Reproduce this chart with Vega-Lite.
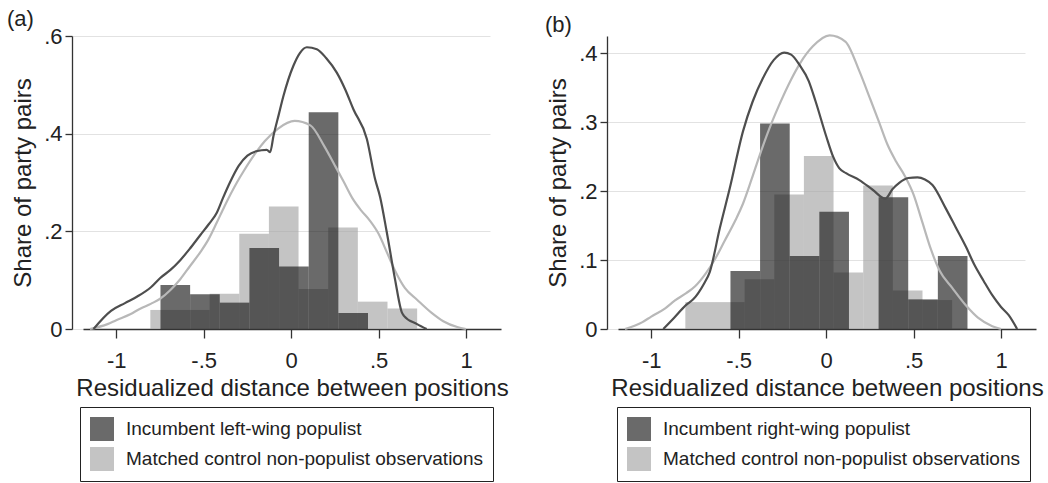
{
  "$schema": "https://vega.github.io/schema/vega-lite/v6.json",
  "padding": {"left": 7, "top": 8, "right": 5, "bottom": 2},
  "background": "white",
  "bounds": "flush",
  "config": {
    "view": {"stroke": null},
    "font": "Liberation Sans",
    "concat": {"spacing": 117},
    "axis": {
      "domainColor": "#333333", "domainWidth": 1.3, "tickColor": "#333333", "tickWidth": 1.3,
      "labelFont": "Liberation Sans", "labelFontSize": 22, "labelColor": "#222222",
      "titleFont": "Liberation Sans", "titleFontSize": 24, "titleFontWeight": "normal", "titleColor": "#222222",
      "gridColor": "#e2e2e2", "gridWidth": 1
    },
    "axisX": {"grid": false, "tickSize": 9, "labelPadding": 12, "titlePadding": 5},
    "axisY": {"grid": true, "tickSize": 7, "labelPadding": 3, "offset": 11, "titlePadding": 8},
    "legend": {
      "orient": "none", "title": null, "symbolType": "square", "symbolSize": 576, "symbolOpacity": 0.644,
      "symbolStrokeWidth": 0, "labelFont": "Liberation Sans", "labelFontSize": 19, "labelColor": "#222222",
      "labelLimit": 600, "labelOffset": 12, "rowPadding": 6, "padding": 10, "strokeColor": "#222222",
      "fillColor": "white", "direction": "vertical"
    },
    "title": {"font": "Liberation Sans", "fontSize": 22, "fontWeight": "normal", "color": "#222222", "anchor": "start", "frame": "group", "offset": -6}
  },
  "datasets": {
    "hist": [
      {"panel": "both", "group": "control", "label": "Matched control non-populist observations", "x0": -0.805, "x1": -0.6355, "share": 0.039},
      {"panel": "both", "group": "control", "label": "Matched control non-populist observations", "x0": -0.6355, "x1": -0.466, "share": 0.039},
      {"panel": "both", "group": "control", "label": "Matched control non-populist observations", "x0": -0.466, "x1": -0.2965, "share": 0.072},
      {"panel": "both", "group": "control", "label": "Matched control non-populist observations", "x0": -0.2965, "x1": -0.127, "share": 0.195},
      {"panel": "both", "group": "control", "label": "Matched control non-populist observations", "x0": -0.127, "x1": 0.0425, "share": 0.251},
      {"panel": "both", "group": "control", "label": "Matched control non-populist observations", "x0": 0.0425, "x1": 0.212, "share": 0.082},
      {"panel": "both", "group": "control", "label": "Matched control non-populist observations", "x0": 0.212, "x1": 0.3815, "share": 0.208},
      {"panel": "both", "group": "control", "label": "Matched control non-populist observations", "x0": 0.3815, "x1": 0.551, "share": 0.056},
      {"panel": "both", "group": "control", "label": "Matched control non-populist observations", "x0": 0.551, "x1": 0.7205, "share": 0.042},
      {"panel": "a", "group": "populist", "label": "Incumbent left-wing populist", "x0": -0.747, "x1": -0.5775, "share": 0.090},
      {"panel": "a", "group": "populist", "label": "Incumbent left-wing populist", "x0": -0.5775, "x1": -0.408, "share": 0.071},
      {"panel": "a", "group": "populist", "label": "Incumbent left-wing populist", "x0": -0.408, "x1": -0.2385, "share": 0.054},
      {"panel": "a", "group": "populist", "label": "Incumbent left-wing populist", "x0": -0.2385, "x1": -0.069, "share": 0.166},
      {"panel": "a", "group": "populist", "label": "Incumbent left-wing populist", "x0": -0.069, "x1": 0.1005, "share": 0.128},
      {"panel": "a", "group": "populist", "label": "Incumbent left-wing populist", "x0": 0.1005, "x1": 0.27, "share": 0.444},
      {"panel": "a", "group": "populist", "label": "Incumbent left-wing populist", "x0": 0.27, "x1": 0.4395, "share": 0.033},
      {"panel": "b", "group": "populist", "label": "Incumbent right-wing populist", "x0": -0.547, "x1": -0.3776, "share": 0.084},
      {"panel": "b", "group": "populist", "label": "Incumbent right-wing populist", "x0": -0.3776, "x1": -0.2082, "share": 0.298},
      {"panel": "b", "group": "populist", "label": "Incumbent right-wing populist", "x0": -0.2082, "x1": -0.0388, "share": 0.106},
      {"panel": "b", "group": "populist", "label": "Incumbent right-wing populist", "x0": -0.0388, "x1": 0.1306, "share": 0.170},
      {"panel": "b", "group": "populist", "label": "Incumbent right-wing populist", "x0": 0.3, "x1": 0.4694, "share": 0.191},
      {"panel": "b", "group": "populist", "label": "Incumbent right-wing populist", "x0": 0.4694, "x1": 0.6388, "share": 0.043},
      {"panel": "b", "group": "populist", "label": "Incumbent right-wing populist", "x0": 0.6388, "x1": 0.8082, "share": 0.106}
    ],
    "dens": [
      {"group": "control", "panel": "both", "x": -1.15, "y": 0},
      {"group": "control", "panel": "both", "x": -1.05, "y": 0.01},
      {"group": "control", "panel": "both", "x": -1.0, "y": 0.018},
      {"group": "control", "panel": "both", "x": -0.92, "y": 0.03},
      {"group": "control", "panel": "both", "x": -0.866, "y": 0.041},
      {"group": "control", "panel": "both", "x": -0.8, "y": 0.052},
      {"group": "control", "panel": "both", "x": -0.749, "y": 0.062},
      {"group": "control", "panel": "both", "x": -0.69, "y": 0.08},
      {"group": "control", "panel": "both", "x": -0.634, "y": 0.102},
      {"group": "control", "panel": "both", "x": -0.58, "y": 0.128},
      {"group": "control", "panel": "both", "x": -0.52, "y": 0.157},
      {"group": "control", "panel": "both", "x": -0.475, "y": 0.182},
      {"group": "control", "panel": "both", "x": -0.425, "y": 0.218},
      {"group": "control", "panel": "both", "x": -0.38, "y": 0.252},
      {"group": "control", "panel": "both", "x": -0.31, "y": 0.3},
      {"group": "control", "panel": "both", "x": -0.27, "y": 0.324},
      {"group": "control", "panel": "both", "x": -0.2, "y": 0.362},
      {"group": "control", "panel": "both", "x": -0.15, "y": 0.385},
      {"group": "control", "panel": "both", "x": -0.076, "y": 0.41},
      {"group": "control", "panel": "both", "x": 0.02, "y": 0.426},
      {"group": "control", "panel": "both", "x": 0.11, "y": 0.417},
      {"group": "control", "panel": "both", "x": 0.19, "y": 0.374},
      {"group": "control", "panel": "both", "x": 0.25, "y": 0.335},
      {"group": "control", "panel": "both", "x": 0.3, "y": 0.302},
      {"group": "control", "panel": "both", "x": 0.35, "y": 0.268},
      {"group": "control", "panel": "both", "x": 0.4, "y": 0.243},
      {"group": "control", "panel": "both", "x": 0.45, "y": 0.222},
      {"group": "control", "panel": "both", "x": 0.5, "y": 0.195},
      {"group": "control", "panel": "both", "x": 0.55, "y": 0.155},
      {"group": "control", "panel": "both", "x": 0.6, "y": 0.115},
      {"group": "control", "panel": "both", "x": 0.65, "y": 0.084},
      {"group": "control", "panel": "both", "x": 0.72, "y": 0.06},
      {"group": "control", "panel": "both", "x": 0.8, "y": 0.034},
      {"group": "control", "panel": "both", "x": 0.87, "y": 0.016},
      {"group": "control", "panel": "both", "x": 0.95, "y": 0.004},
      {"group": "control", "panel": "both", "x": 1.0, "y": 0},
      {"group": "populist", "panel": "a", "x": -1.13, "y": 0},
      {"group": "populist", "panel": "a", "x": -1.03, "y": 0.037},
      {"group": "populist", "panel": "a", "x": -0.95, "y": 0.053},
      {"group": "populist", "panel": "a", "x": -0.882, "y": 0.066},
      {"group": "populist", "panel": "a", "x": -0.8, "y": 0.086},
      {"group": "populist", "panel": "a", "x": -0.75, "y": 0.104},
      {"group": "populist", "panel": "a", "x": -0.69, "y": 0.121},
      {"group": "populist", "panel": "a", "x": -0.634, "y": 0.141},
      {"group": "populist", "panel": "a", "x": -0.58, "y": 0.164},
      {"group": "populist", "panel": "a", "x": -0.52, "y": 0.192},
      {"group": "populist", "panel": "a", "x": -0.47, "y": 0.215},
      {"group": "populist", "panel": "a", "x": -0.425, "y": 0.238},
      {"group": "populist", "panel": "a", "x": -0.39, "y": 0.268},
      {"group": "populist", "panel": "a", "x": -0.35, "y": 0.3},
      {"group": "populist", "panel": "a", "x": -0.3, "y": 0.334},
      {"group": "populist", "panel": "a", "x": -0.25, "y": 0.355},
      {"group": "populist", "panel": "a", "x": -0.2, "y": 0.364},
      {"group": "populist", "panel": "a", "x": -0.139, "y": 0.367},
      {"group": "populist", "panel": "a", "x": -0.12, "y": 0.362},
      {"group": "populist", "panel": "a", "x": -0.101, "y": 0.395},
      {"group": "populist", "panel": "a", "x": -0.07, "y": 0.44},
      {"group": "populist", "panel": "a", "x": -0.044, "y": 0.477},
      {"group": "populist", "panel": "a", "x": 0.013, "y": 0.539},
      {"group": "populist", "panel": "a", "x": 0.05, "y": 0.565},
      {"group": "populist", "panel": "a", "x": 0.09, "y": 0.577},
      {"group": "populist", "panel": "a", "x": 0.147, "y": 0.573},
      {"group": "populist", "panel": "a", "x": 0.2, "y": 0.555},
      {"group": "populist", "panel": "a", "x": 0.261, "y": 0.525},
      {"group": "populist", "panel": "a", "x": 0.31, "y": 0.49},
      {"group": "populist", "panel": "a", "x": 0.356, "y": 0.45},
      {"group": "populist", "panel": "a", "x": 0.433, "y": 0.389},
      {"group": "populist", "panel": "a", "x": 0.48, "y": 0.307},
      {"group": "populist", "panel": "a", "x": 0.509, "y": 0.27},
      {"group": "populist", "panel": "a", "x": 0.547, "y": 0.198},
      {"group": "populist", "panel": "a", "x": 0.594, "y": 0.102},
      {"group": "populist", "panel": "a", "x": 0.633, "y": 0.034},
      {"group": "populist", "panel": "a", "x": 0.645, "y": 0.027},
      {"group": "populist", "panel": "a", "x": 0.72, "y": 0.01},
      {"group": "populist", "panel": "a", "x": 0.775, "y": 0},
      {"group": "populist", "panel": "b", "x": -0.931, "y": 0},
      {"group": "populist", "panel": "b", "x": -0.87, "y": 0.016},
      {"group": "populist", "panel": "b", "x": -0.8, "y": 0.035},
      {"group": "populist", "panel": "b", "x": -0.76, "y": 0.043},
      {"group": "populist", "panel": "b", "x": -0.7, "y": 0.065},
      {"group": "populist", "panel": "b", "x": -0.665, "y": 0.083},
      {"group": "populist", "panel": "b", "x": -0.608, "y": 0.146},
      {"group": "populist", "panel": "b", "x": -0.551, "y": 0.204},
      {"group": "populist", "panel": "b", "x": -0.475, "y": 0.287},
      {"group": "populist", "panel": "b", "x": -0.42, "y": 0.33},
      {"group": "populist", "panel": "b", "x": -0.361, "y": 0.364},
      {"group": "populist", "panel": "b", "x": -0.3, "y": 0.39},
      {"group": "populist", "panel": "b", "x": -0.24, "y": 0.401},
      {"group": "populist", "panel": "b", "x": -0.2, "y": 0.398},
      {"group": "populist", "panel": "b", "x": -0.152, "y": 0.383},
      {"group": "populist", "panel": "b", "x": -0.1, "y": 0.36},
      {"group": "populist", "panel": "b", "x": -0.06, "y": 0.33},
      {"group": "populist", "panel": "b", "x": 0.0, "y": 0.28},
      {"group": "populist", "panel": "b", "x": 0.04, "y": 0.25},
      {"group": "populist", "panel": "b", "x": 0.076, "y": 0.233},
      {"group": "populist", "panel": "b", "x": 0.114, "y": 0.226},
      {"group": "populist", "panel": "b", "x": 0.19, "y": 0.216},
      {"group": "populist", "panel": "b", "x": 0.266, "y": 0.202},
      {"group": "populist", "panel": "b", "x": 0.338, "y": 0.189},
      {"group": "populist", "panel": "b", "x": 0.38, "y": 0.203},
      {"group": "populist", "panel": "b", "x": 0.418, "y": 0.212},
      {"group": "populist", "panel": "b", "x": 0.47, "y": 0.219},
      {"group": "populist", "panel": "b", "x": 0.522, "y": 0.22},
      {"group": "populist", "panel": "b", "x": 0.565, "y": 0.217},
      {"group": "populist", "panel": "b", "x": 0.608, "y": 0.209},
      {"group": "populist", "panel": "b", "x": 0.684, "y": 0.175},
      {"group": "populist", "panel": "b", "x": 0.74, "y": 0.148},
      {"group": "populist", "panel": "b", "x": 0.798, "y": 0.12},
      {"group": "populist", "panel": "b", "x": 0.85, "y": 0.092},
      {"group": "populist", "panel": "b", "x": 0.9, "y": 0.07},
      {"group": "populist", "panel": "b", "x": 0.95, "y": 0.049},
      {"group": "populist", "panel": "b", "x": 1.0, "y": 0.032},
      {"group": "populist", "panel": "b", "x": 1.044, "y": 0.02},
      {"group": "populist", "panel": "b", "x": 1.092, "y": 0}
    ]
  },
  "hconcat": [
    {
      "width": 418, "height": 293,
      "title": {"text": "(a)", "dx": -76},
      "layer": [
        {
          "data": {"name": "hist"},
          "transform": [{"filter": "datum.group == 'control'"}],
          "mark": {"type": "rect", "opacity": 0.644},
          "encoding": {
            "x": {"field": "x0", "type": "quantitative", "title": "Residualized distance between positions",
                  "scale": {"domain": [-1.19, 1.2], "nice": false, "zero": false},
                  "axis": {"values": [-1, -0.5, 0, 0.5, 1], "labelExpr": "datum.value == 0 ? '0' : datum.value == 1 ? '1' : datum.value == -1 ? '-1' : datum.value == 0.5 ? '.5' : '-.5'"}},
            "x2": {"field": "x1"},
            "y": {"field": "share", "type": "quantitative", "title": "Share of party pairs",
                  "scale": {"domain": [0, 0.6], "nice": false},
                  "axis": {"values": [0, 0.2, 0.4, 0.6], "labelExpr": "datum.value == 0 ? '0' : '.' + round(datum.value * 10)"}},
            "y2": {"datum": 0},
            "color": {"field": "label", "type": "nominal",
                      "scale": {"domain": ["Incumbent left-wing populist", "Matched control non-populist observations"], "range": ["#181818", "#a3a3a3"]},
                      "legend": {"legendX": -3, "legendY": 371}}
          }
        },
        {
          "data": {"name": "hist"},
          "transform": [{"filter": "datum.panel == 'a'"}],
          "mark": {"type": "rect", "opacity": 0.644},
          "encoding": {
            "x": {"field": "x0", "type": "quantitative", "title": "Residualized distance between positions"},
            "x2": {"field": "x1"},
            "y": {"field": "share", "type": "quantitative", "title": "Share of party pairs"},
            "y2": {"datum": 0},
            "color": {"field": "label", "type": "nominal"}
          }
        },
        {
          "data": {"name": "dens"},
          "transform": [{"filter": "datum.group == 'control'"}],
          "mark": {"type": "line", "color": "#b8b8b8", "strokeWidth": 2.2, "interpolate": "monotone"},
          "encoding": {
            "x": {"field": "x", "type": "quantitative", "title": "Residualized distance between positions"},
            "y": {"field": "y", "type": "quantitative", "title": "Share of party pairs"}
          }
        },
        {
          "data": {"name": "dens"},
          "transform": [{"filter": "datum.panel == 'a'"}],
          "mark": {"type": "line", "color": "#4e4e4e", "strokeWidth": 2.2, "interpolate": "monotone"},
          "encoding": {
            "x": {"field": "x", "type": "quantitative", "title": "Residualized distance between positions"},
            "y": {"field": "y", "type": "quantitative", "title": "Share of party pairs"}
          }
        }
      ]
    },
    {
      "width": 418, "height": 293,
      "title": {"text": "(b)", "dx": -73},
      "layer": [
        {
          "data": {"name": "hist"},
          "transform": [{"filter": "datum.group == 'control'"}],
          "mark": {"type": "rect", "opacity": 0.644},
          "encoding": {
            "x": {"field": "x0", "type": "quantitative", "title": "Residualized distance between positions",
                  "scale": {"domain": [-1.19, 1.2], "nice": false, "zero": false},
                  "axis": {"values": [-1, -0.5, 0, 0.5, 1], "labelExpr": "datum.value == 0 ? '0' : datum.value == 1 ? '1' : datum.value == -1 ? '-1' : datum.value == 0.5 ? '.5' : '-.5'"}},
            "x2": {"field": "x1"},
            "y": {"field": "share", "type": "quantitative", "title": "Share of party pairs",
                  "scale": {"domain": [0, 0.425], "nice": false},
                  "axis": {"values": [0, 0.1, 0.2, 0.3, 0.4], "labelExpr": "datum.value == 0 ? '0' : '.' + round(datum.value * 10)"}},
            "y2": {"datum": 0},
            "color": {"field": "label", "type": "nominal",
                      "scale": {"domain": ["Incumbent right-wing populist", "Matched control non-populist observations"], "range": ["#181818", "#a3a3a3"]},
                      "legend": {"legendX": -1, "legendY": 371}}
          }
        },
        {
          "data": {"name": "hist"},
          "transform": [{"filter": "datum.panel == 'b'"}],
          "mark": {"type": "rect", "opacity": 0.644},
          "encoding": {
            "x": {"field": "x0", "type": "quantitative", "title": "Residualized distance between positions"},
            "x2": {"field": "x1"},
            "y": {"field": "share", "type": "quantitative", "title": "Share of party pairs"},
            "y2": {"datum": 0},
            "color": {"field": "label", "type": "nominal"}
          }
        },
        {
          "data": {"name": "dens"},
          "transform": [{"filter": "datum.group == 'control'"}],
          "mark": {"type": "line", "color": "#b8b8b8", "strokeWidth": 2.2, "interpolate": "monotone"},
          "encoding": {
            "x": {"field": "x", "type": "quantitative", "title": "Residualized distance between positions"},
            "y": {"field": "y", "type": "quantitative", "title": "Share of party pairs"}
          }
        },
        {
          "data": {"name": "dens"},
          "transform": [{"filter": "datum.panel == 'b'"}],
          "mark": {"type": "line", "color": "#4e4e4e", "strokeWidth": 2.2, "interpolate": "monotone"},
          "encoding": {
            "x": {"field": "x", "type": "quantitative", "title": "Residualized distance between positions"},
            "y": {"field": "y", "type": "quantitative", "title": "Share of party pairs"}
          }
        }
      ]
    }
  ],
  "resolve": {"scale": {"color": "independent", "x": "independent", "y": "independent"}, "legend": {"color": "independent"}}
}
